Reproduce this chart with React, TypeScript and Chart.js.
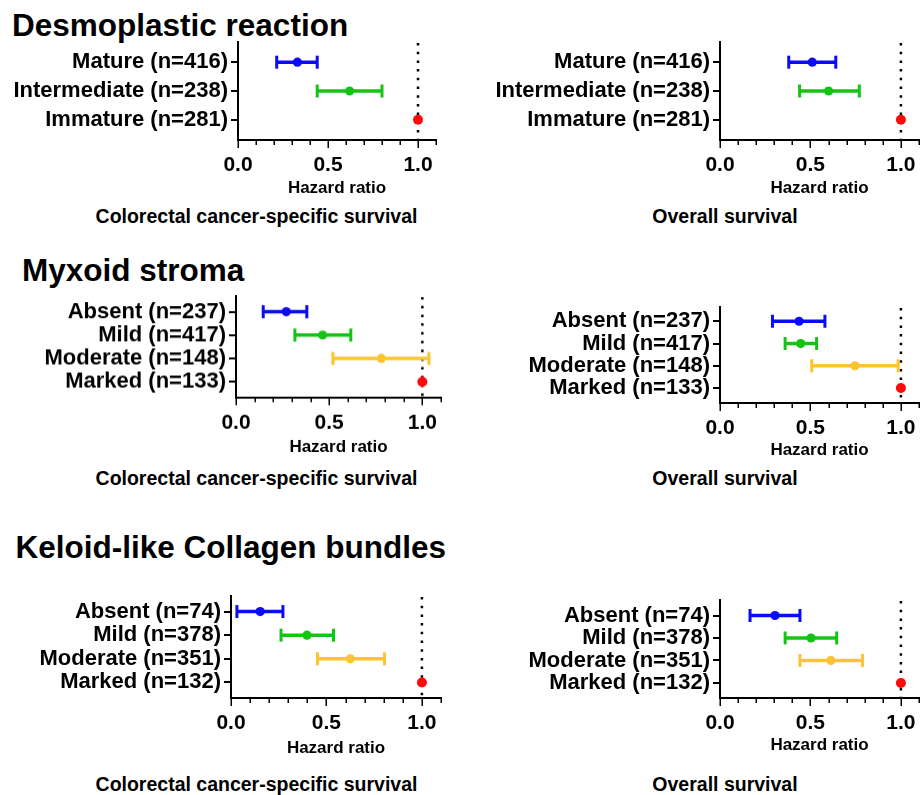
import React, { useEffect, useRef } from "react";
import { Chart, registerables } from "chart.js";

Chart.register(...registerables);

const FONT = "'Liberation Sans', Arial, Helvetica, sans-serif";

// ---------- data ----------
const drLabels = ["Mature (n=416)", "Intermediate (n=238)", "Immature (n=281)"];
const drCssHR = [0.33, 0.62, 1.0];
const drCssLo = [0.215, 0.44, null];
const drCssHi = [0.44, 0.8, null];
const drOsHR = [0.51, 0.6, 1.0];
const drOsLo = [0.38, 0.44, null];
const drOsHi = [0.64, 0.77, null];

const msLabels = ["Absent (n=237)", "Mild (n=417)", "Moderate (n=148)", "Marked (n=133)"];
const msCssHR = [0.27, 0.465, 0.78, 1.0];
const msCssLo = [0.146, 0.316, 0.52, null];
const msCssHi = [0.38, 0.616, 1.035, null];
const msOsHR = [0.437, 0.446, 0.746, 1.0];
const msOsLo = [0.29, 0.36, 0.507, null];
const msOsHi = [0.58, 0.534, 0.985, null];

const klLabels = ["Absent (n=74)", "Mild (n=378)", "Moderate (n=351)", "Marked (n=132)"];
const klCssHR = [0.153, 0.398, 0.625, 1.0];
const klCssLo = [0.031, 0.262, 0.453, null];
const klCssHi = [0.272, 0.537, 0.804, null];
const klOsHR = [0.304, 0.503, 0.613, 1.0];
const klOsLo = [0.166, 0.36, 0.442, null];
const klOsHi = [0.442, 0.645, 0.788, null];

const xTickStep = 0.1;
const xMax = 1.1;
const refValue = 1.0;
const xTitle = "Hazard ratio";

// ---------- styles ----------
const BLUE = "#0b0bf5";
const GREEN = "#14c414";
const YELLOW = "#fcc430";
const RED = "#ff0a0a";
const colors3 = [BLUE, GREEN, RED];
const colors4 = [BLUE, GREEN, YELLOW, RED];

type PanelProps = {
  labels: string[];
  hr: number[];
  lo: (number | null)[];
  hi: (number | null)[];
  colors: string[];
  left: number;
  top: number;
  width: number;
  height: number;
  yWidth: number;
  padRight: number;
  xH: number;
  yMin: number;
  yMax: number;
};

function ForestPanel(p: PanelProps) {
  const ref = useRef<HTMLCanvasElement | null>(null);
  useEffect(() => {
    const { labels, hr, lo, hi, colors } = p;
    const forest = {
      id: "forest",
      beforeDatasetsDraw(chart: any) {
        const { ctx, chartArea, scales } = chart;
        const x = scales.x;
        const y = scales.y;
        ctx.save();
        const xr = x.getPixelForValue(refValue);
        ctx.strokeStyle = "#000";
        ctx.lineWidth = 2.5;
        ctx.setLineDash([2.5, 6.2]);
        ctx.beginPath();
        ctx.moveTo(xr, chartArea.top + 1);
        ctx.lineTo(xr, chartArea.bottom);
        ctx.stroke();
        ctx.setLineDash([]);
        lo.forEach((l, i) => {
          const h = hi[i];
          if (l == null || h == null) return;
          const yy = y.getPixelForValue(i);
          const x1 = x.getPixelForValue(l);
          const x2 = x.getPixelForValue(h);
          ctx.strokeStyle = colors[i];
          ctx.lineWidth = 3.5;
          ctx.beginPath();
          ctx.moveTo(x1, yy);
          ctx.lineTo(x2, yy);
          ctx.stroke();
          ctx.lineWidth = 3;
          [x1, x2].forEach((xx) => {
            ctx.beginPath();
            ctx.moveTo(xx, yy - 6.5);
            ctx.lineTo(xx, yy + 6.5);
            ctx.stroke();
          });
        });
        ctx.restore();
      },
      afterDraw(chart: any) {
        const { ctx, chartArea, scales } = chart;
        const x = scales.x;
        ctx.save();
        ctx.strokeStyle = "#000";
        ctx.lineWidth = 1.5;
        x.ticks.forEach((t: any) => {
          const px = Math.round(x.getPixelForValue(t.value)) + 0.25;
          const major = Math.abs(t.value * 2 - Math.round(t.value * 2)) < 1e-6;
          ctx.beginPath();
          ctx.moveTo(px, chartArea.bottom);
          ctx.lineTo(px, chartArea.bottom + (major ? 8 : 5));
          ctx.stroke();
        });
        ctx.restore();
      },
    };
    const chart = new Chart(ref.current as HTMLCanvasElement, {
      type: "scatter",
      data: {
        datasets: [
          {
            data: hr.map((v, i) => ({ x: v, y: i })),
            pointBackgroundColor: colors,
            pointBorderColor: colors,
            pointBorderWidth: 0,
            pointRadius: colors.map((c) => (c === RED ? 5 : 4.6)),
            pointHoverRadius: colors.map((c) => (c === RED ? 5 : 4.6)),
            showLine: false,
          } as any,
        ],
      },
      options: {
        responsive: false,
        maintainAspectRatio: false,
        animation: false,
        events: [],
        layout: { padding: { top: 10, right: p.padRight, left: 0, bottom: 0 } },
        plugins: { legend: { display: false }, tooltip: { enabled: false }, title: { display: false } },
        scales: {
          x: {
            type: "linear",
            min: 0,
            max: xMax,
            afterFit: (s: any) => {
              s.height = p.xH;
              s.paddingLeft = 0;
              s.paddingRight = 0;
            },
            grid: { display: false, drawTicks: false },
            border: { display: true, color: "#000", width: 2 },
            ticks: {
              stepSize: xTickStep,
              precision: 1,
              autoSkip: false,
              maxRotation: 0,
              minRotation: 0,
              padding: 13,
              color: "#000",
              font: { family: FONT, size: 21, weight: "bold" },
              callback: (v: any) => {
                const n = Number(v);
                return Math.abs(n * 2 - Math.round(n * 2)) < 1e-6 ? n.toFixed(1) : "";
              },
            },
            title: {
              display: true,
              text: xTitle,
              color: "#000",
              padding: 0,
              font: { family: FONT, size: 17, weight: "bold", lineHeight: 1.2 },
            },
          },
          y: {
            type: "linear",
            reverse: true,
            min: p.yMin,
            max: p.yMax,
            afterFit: (s: any) => {
              s.width = p.yWidth;
              s.paddingTop = 0;
              s.paddingBottom = 0;
            },
            grid: { drawOnChartArea: false, drawTicks: true, tickLength: 7, color: "#000", lineWidth: 2 },
            border: { display: true, color: "#000", width: 2 },
            ticks: {
              stepSize: 1,
              includeBounds: false,
              autoSkip: false,
              padding: 3,
              color: "#000",
              font: { family: FONT, size: 22, weight: "bold" },
              callback: (v: any) => labels[Math.round(Number(v))] ?? "",
            },
          },
        },
      } as any,
      plugins: [forest],
    });
    return () => chart.destroy();
  }, []);
  return (
    <canvas
      ref={ref}
      width={p.width}
      height={p.height}
      style={{ position: "absolute", left: p.left, top: p.top, width: p.width, height: p.height }}
    />
  );
}

function panel(
  labels: string[],
  hr: number[],
  lo: (number | null)[],
  hi: (number | null)[],
  colors: string[],
  L: number,
  R: number,
  T: number,
  B: number,
  xH: number,
  yMin: number,
  yMax: number,
  right: boolean
): PanelProps {
  const left = right ? 460 : 0;
  const width = right ? 480 : 460;
  const yWidth = L - left;
  const padRight = width - yWidth - (R - L);
  return {
    labels, hr, lo, hi, colors,
    left, top: T - 10, width, height: 10 + (B - T) + xH,
    yWidth, padRight, xH, yMin, yMax,
  };
}

const headingStyle: React.CSSProperties = {
  position: "absolute",
  fontFamily: FONT,
  fontWeight: "bold",
  fontSize: 31.5,
  lineHeight: "31.5px",
  whiteSpace: "nowrap",
  color: "#000",
};
const subStyle: React.CSSProperties = {
  position: "absolute",
  fontFamily: FONT,
  fontWeight: "bold",
  fontSize: 19.5,
  lineHeight: "19.5px",
  whiteSpace: "nowrap",
  width: 400,
  textAlign: "center",
  color: "#000",
};

export default function App() {
  const panels: PanelProps[] = [
    panel(drLabels, drCssHR, drCssLo, drCssHi, colors3, 238, 436, 42, 140, 59, -0.7, 2.7, false),
    panel(drLabels, drOsHR, drOsLo, drOsHi, colors3, 720, 919, 42, 140, 59, -0.7, 2.7, true),
    panel(msLabels, msCssHR, msCssLo, msCssHi, colors4, 236, 441, 296, 397, 60.5, -0.67, 3.66, false),
    panel(msLabels, msOsHR, msOsLo, msOsHi, colors4, 720, 919, 307, 403, 58, -0.64, 3.67, true),
    panel(klLabels, klCssHR, klCssLo, klCssHi, colors4, 231, 441, 596, 698, 61, -0.66, 3.66, false),
    panel(klLabels, klOsHR, klOsLo, klOsHi, colors4, 720, 919, 600, 698, 58, -0.69, 3.67, true),
  ];
  return (
    <div style={{ position: "absolute", left: 0, top: 0, width: 920, height: 795, background: "#fff", overflow: "hidden" }}>
      <div style={{ ...headingStyle, left: 12, top: 9.5 }}>Desmoplastic reaction</div>
      <div style={{ ...headingStyle, left: 22, top: 255 }}>Myxoid stroma</div>
      <div style={{ ...headingStyle, left: 15.5, top: 531.5 }}>Keloid-like Collagen bundles</div>
      {panels.map((pp, i) => (
        <ForestPanel key={i} {...pp} />
      ))}
      <div style={{ ...subStyle, left: 56.5, top: 207 }}>Colorectal cancer-specific survival</div>
      <div style={{ ...subStyle, left: 525, top: 207 }}>Overall survival</div>
      <div style={{ ...subStyle, left: 56.5, top: 469 }}>Colorectal cancer-specific survival</div>
      <div style={{ ...subStyle, left: 525, top: 469 }}>Overall survival</div>
      <div style={{ ...subStyle, left: 56.5, top: 775 }}>Colorectal cancer-specific survival</div>
      <div style={{ ...subStyle, left: 525, top: 775 }}>Overall survival</div>
    </div>
  );
}
